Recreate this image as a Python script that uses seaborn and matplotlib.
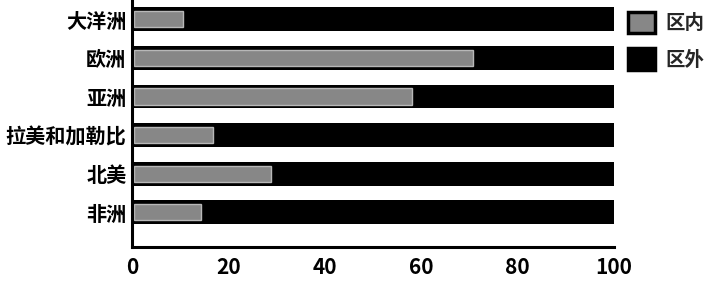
import matplotlib
matplotlib.use("Agg")
import matplotlib.pyplot as plt
import seaborn as sns
import pandas as pd
from matplotlib.patches import Patch

categories = ["大洋洲", "欧洲", "亚洲", "拉美和加勒比", "北美", "非洲"]
inner = [10.6, 70.7, 58.0, 16.9, 28.8, 14.3]
total = [100, 100, 100, 100, 100, 100]
series_names = ["区内", "区外"]
xticks = [0, 20, 40, 60, 80, 100]

sns.set_theme(style="white")
plt.rcParams["font.family"] = ["Noto Sans CJK SC", "DejaVu Sans"]
plt.rcParams["font.weight"] = "bold"

df = pd.DataFrame({"cat": categories, "inner": inner, "total": total})

fig = plt.figure(figsize=(7.12, 2.82), dpi=100)
ax = fig.add_axes([0.1854, 0.124, 0.677, 0.876])

sns.barplot(data=df, y="cat", x="total", color="black", orient="h",
            width=0.62, ax=ax, saturation=1, edgecolor="black", linewidth=0)
sns.barplot(data=df, y="cat", x="inner", color="#878787", orient="h",
            width=0.42, ax=ax, saturation=1, edgecolor="#b8b8b8", linewidth=1.0)
for p in ax.patches[len(categories):]:
    w = p.get_width()
    p.set_x(p.get_x() + 0.5)
    p.set_width(w - 0.5)

ax.set_xlim(0, 100)
ax.set_ylim(5.9, -0.5)
ax.set_xticks(xticks)
ax.set_xticklabels([str(t) for t in xticks], fontsize=15, fontweight="bold")
ax.set_yticklabels(categories, fontsize=14.5, fontweight="bold")
ax.set_xlabel("")
ax.set_ylabel("")
for s in ["top", "right"]:
    ax.spines[s].set_visible(False)
for s in ["left", "bottom"]:
    ax.spines[s].set_linewidth(2.2)
    ax.spines[s].set_color("black")
ax.tick_params(axis="x", direction="in", length=6, width=2, pad=7, colors="black")
ax.tick_params(axis="y", length=0, pad=4, colors="black")

handles = [Patch(facecolor="#878787", edgecolor="black", linewidth=2.5),
           Patch(facecolor="black", edgecolor="black", linewidth=2.5)]
fig.legend(handles, series_names, loc="upper left", bbox_to_anchor=(0.866, 1.0),
           frameon=False, prop={"size": 14, "weight": "bold"},
           handlelength=1.4, handleheight=1.3, labelspacing=0.8, handletextpad=0.5,
           borderaxespad=0.2)

fig.savefig("out.png", dpi=100)
